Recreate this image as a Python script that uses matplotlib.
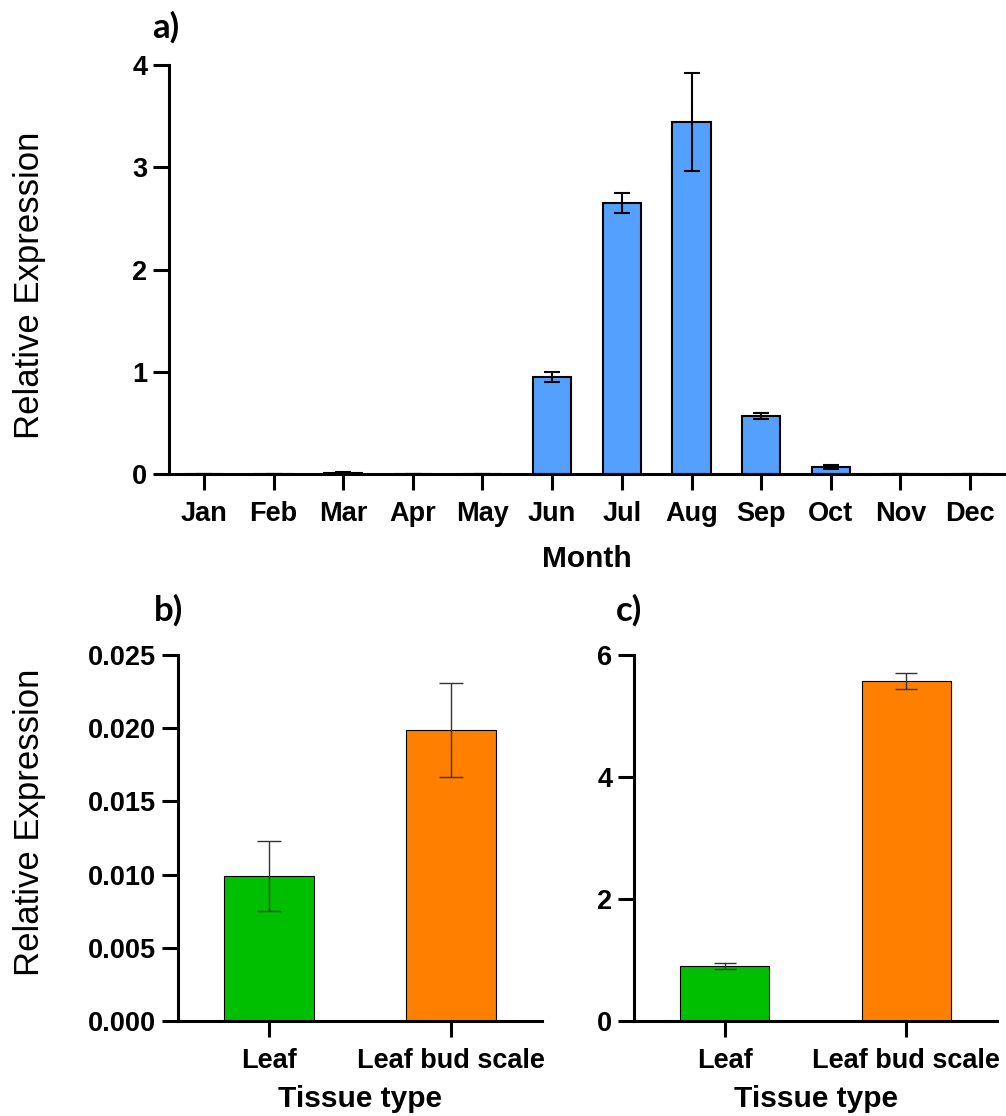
import matplotlib
matplotlib.use("Agg")
import matplotlib.pyplot as plt
import numpy as np

# ---- data ----
months = ["Jan", "Feb", "Mar", "Apr", "May", "Jun", "Jul", "Aug", "Sep", "Oct", "Nov", "Dec"]
month_expr = [0.0, 0.0, 0.01, 0.0, 0.0, 0.95, 2.65, 3.44, 0.57, 0.07, 0.0, 0.0]
month_err = [0.0, 0.0, 0.005, 0.0, 0.0, 0.05, 0.10, 0.48, 0.03, 0.02, 0.0, 0.0]

tissues = ["Leaf", "Leaf bud scale"]
tissue_expr_b = [0.0099, 0.0199]
tissue_err_b = [0.0024, 0.0032]
tissue_expr_c = [0.90, 5.58]
tissue_err_c = [0.05, 0.13]

yticks_a = [0, 1, 2, 3, 4]
yticks_b = [0.000, 0.005, 0.010, 0.015, 0.020, 0.025]
yticks_c = [0, 2, 4, 6]

# ---- style ----
W, H = 1006, 1116
DPI = 100
TICK_FONT = {"family": "Liberation Sans", "weight": "bold", "size": 19.5}
LABEL_FONT = {"family": "Liberation Sans", "weight": "bold", "size": 21.5}
YLABEL_FONT = {"family": "Liberation Sans", "weight": "normal", "size": 25}
PANEL_FONT = {"family": "Lato", "weight": "bold", "size": 25}

BLUE = "#54A0FF"
GREEN = "#00BF00"
ORANGE = "#FF8000"

fig = plt.figure(figsize=(W / DPI, H / DPI), dpi=DPI)


def px_axes(x0, x1, ytop, ybot):
    return fig.add_axes([x0 / W, 1 - ybot / H, (x1 - x0) / W, (ybot - ytop) / H])


def style_axes(ax):
    for s in ("top", "right"):
        ax.spines[s].set_visible(False)
    for s in ("left", "bottom"):
        ax.spines[s].set_linewidth(2.2)
        ax.spines[s].set_color("black")
        ax.spines[s].set_capstyle("projecting")
    ax.tick_params(axis="both", length=11.5, width=2.2, color="black")
    ax.tick_params(axis="y", pad=4)
    ax.tick_params(axis="x", pad=8)


def fig_text(x, y, s, **kw):
    fig.text(x / W, 1 - y / H, s, **kw)


# ---- panel a: monthly expression ----
ax_a = px_axes(169, 1005, 65, 474)
xa = np.arange(len(months))
ax_a.bar(xa, month_expr, width=0.55, color=BLUE, edgecolor="black", linewidth=1.5, zorder=2)
ax_a.errorbar(xa, month_expr, yerr=month_err, fmt="none", ecolor="black",
              elinewidth=1.5, capsize=5.8, capthick=1.5, zorder=3)
ax_a.set_xlim(-0.5, 11.5)
ax_a.set_ylim(0, 4)
ax_a.set_xticks(xa)
ax_a.set_xticklabels(months, fontdict=TICK_FONT)
ax_a.set_yticks(yticks_a)
ax_a.set_yticklabels([str(v) for v in yticks_a], fontdict=TICK_FONT)
style_axes(ax_a)

fig_text(587, 559, "Month", ha="center", va="center", fontdict=LABEL_FONT)
fig_text(30, 285, "Relative Expression", ha="center", va="center", rotation=90,
         fontdict=YLABEL_FONT)
fig_text(152, 38, "a)", ha="left", va="baseline", fontdict=PANEL_FONT)

# ---- panel b: tissue expression (small scale) ----
ax_b = px_axes(178, 542, 655, 1021)
xt = np.arange(len(tissues))
ax_b.bar(xt, tissue_expr_b, width=0.49, color=[GREEN, ORANGE], edgecolor="black",
         linewidth=0.8, zorder=2)
ax_b.errorbar(xt, tissue_expr_b, yerr=tissue_err_b, fmt="none", ecolor="#333333",
              elinewidth=1.0, capsize=8.3, capthick=1.0, zorder=3)
ax_b.set_xlim(-0.5, 1.5)
ax_b.set_ylim(0, 0.025)
ax_b.set_xticks(xt)
ax_b.set_xticklabels(tissues, fontdict=TICK_FONT)
ax_b.set_yticks(yticks_b)
ax_b.set_yticklabels([f"{v:.3f}" for v in yticks_b], fontdict=TICK_FONT)
style_axes(ax_b)

fig_text(360, 1099, "Tissue type", ha="center", va="center", fontdict=LABEL_FONT)
fig_text(30, 822, "Relative Expression", ha="center", va="center", rotation=90,
         fontdict=YLABEL_FONT)
fig_text(154, 621, "b)", ha="left", va="baseline", fontdict=PANEL_FONT)

# ---- panel c: tissue expression ----
ax_c = px_axes(634, 997, 655, 1021)
ax_c.bar(xt, tissue_expr_c, width=0.49, color=[GREEN, ORANGE], edgecolor="black",
         linewidth=0.8, zorder=2)
ax_c.errorbar(xt, tissue_expr_c, yerr=tissue_err_c, fmt="none", ecolor="#333333",
              elinewidth=1.0, capsize=8.0, capthick=1.0, zorder=3)
ax_c.set_xlim(-0.5, 1.5)
ax_c.set_ylim(0, 6)
ax_c.set_xticks(xt)
ax_c.set_xticklabels(tissues, fontdict=TICK_FONT)
ax_c.set_yticks(yticks_c)
ax_c.set_yticklabels([str(v) for v in yticks_c], fontdict=TICK_FONT)
style_axes(ax_c)

fig_text(816, 1099, "Tissue type", ha="center", va="center", fontdict=LABEL_FONT)
fig_text(616, 621, "c)", ha="left", va="baseline", fontdict=PANEL_FONT)

fig.savefig("out.png", dpi=DPI)
